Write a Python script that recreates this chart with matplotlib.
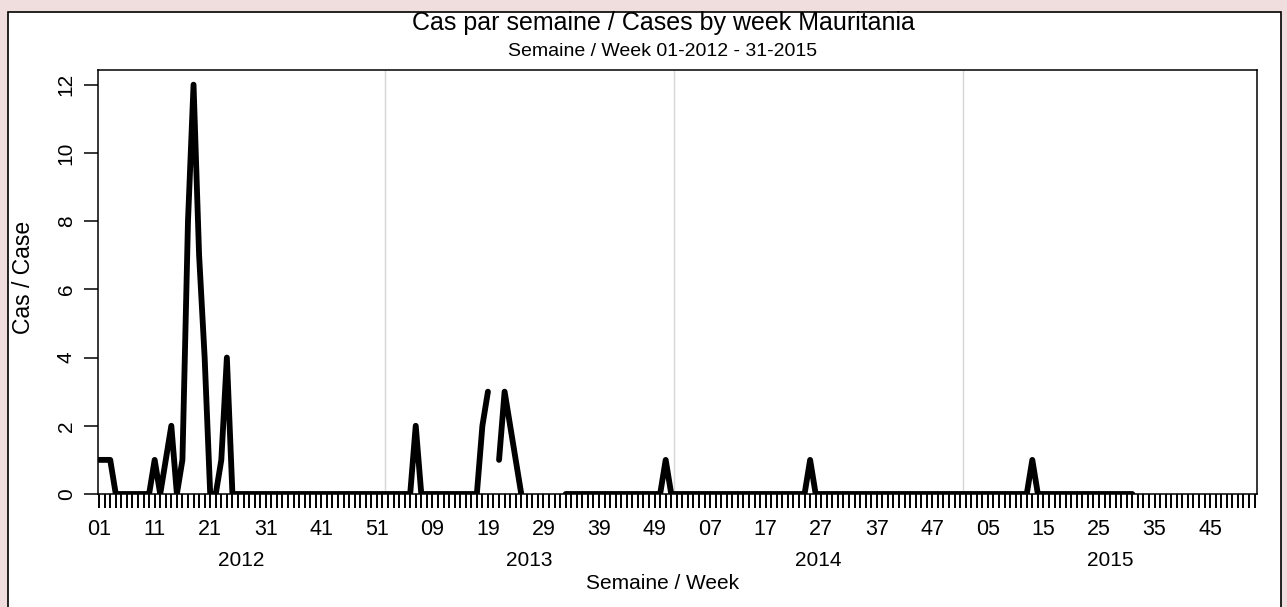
import numpy as np
import matplotlib
matplotlib.use("Agg")
import matplotlib.pyplot as plt
from matplotlib.patches import Rectangle

plt.rcParams['font.family'] = ['Liberation Sans', 'DejaVu Sans']

# weekly case counts, NaN = no report
nan = np.nan
cases_2012 = [1, 1, 1, 0, 0, 0, 0, 0, 0, 0, 1, 0, 1, 2, 0, 1, 8, 12, 7, 4,
              0, 0, 1, 4, 0, 0, 0, 0, 0, 0, 0, 0, 0, 0, 0, 0, 0, 0, 0, 0,
              0, 0, 0, 0, 0, 0, 0, 0, 0, 0, 0, 0]
cases_2013 = [0, 0, 0, 0, 0, 2, 0, 0, 0, 0, 0, 0, 0, 0, 0, 0, 0, 2, 3, nan,
              1, 3, 2, 1, 0, nan, nan, nan, nan, nan, nan, nan, 0, 0, 0, 0, 0, 0, 0, 0,
              0, 0, 0, 0, 0, 0, 0, 0, 0, 0, 1, 0]
cases_2014 = [0, 0, 0, 0, 0, 0, 0, 0, 0, 0, 0, 0, 0, 0, 0, 0, 0, 0, 0, 0,
              0, 0, 0, 0, 1, 0, 0, 0, 0, 0, 0, 0, 0, 0, 0, 0, 0, 0, 0, 0,
              0, 0, 0, 0, 0, 0, 0, 0, 0, 0, 0, 0]
cases_2015 = [0, 0, 0, 0, 0, 0, 0, 0, 0, 0, 0, 0, 1, 0, 0, 0, 0, 0, 0, 0,
              0, 0, 0, 0, 0, 0, 0, 0, 0, 0, 0]

years = ['2012', '2013', '2014', '2015']
weeks_in_year = [52, 52, 52, 53]

cases = np.array(cases_2012 + cases_2013 + cases_2014 + cases_2015, dtype=float)
x = np.arange(len(cases))

# week number for each slot on the axis
week_num = np.concatenate([np.arange(1, n + 1) for n in weeks_in_year])
n_weeks = len(week_num)
starts = np.cumsum([0] + weeks_in_year[:-1])

fig = plt.figure(figsize=(12.87, 6.07), dpi=100)
fig.patch.set_facecolor('#f0dede')
fig.patches.append(Rectangle((8 / 1287, -0.05), (1281 - 8) / 1287, 1 - 12 / 607 + 0.05,
                             transform=fig.transFigure, facecolor='white',
                             edgecolor='black', linewidth=1.2, zorder=-10))

ax = fig.add_axes([98 / 1287, 1 - 494 / 607, (1257 - 98) / 1287, (494 - 70) / 607])
ax.set_zorder(1)
ax.patch.set_alpha(0)

for s in starts[1:]:
    ax.axvline(s - 0.5, color='#d6d6d6', linewidth=1, zorder=1)

ax.plot(x, cases, color='black', linewidth=4.2, solid_capstyle='round',
        solid_joinstyle='round', zorder=3)

ax.set_xlim(-0.2, n_weeks - 0.55)
ax.set_ylim(0, 12.43)

for sp in ax.spines.values():
    sp.set_linewidth(1.1)
    sp.set_color('black')

ax.set_yticks(range(0, 13, 2))
ax.tick_params(axis='y', length=10, width=1.1, pad=6, labelsize=15, direction='out')
plt.setp(ax.get_yticklabels(), rotation=90, va='center')

ax.set_xticks(x_major := np.arange(0, n_weeks, 10))
ax.set_xticklabels([f"{week_num[i]:02d}" for i in x_major])
ax.set_xticks(np.arange(n_weeks), minor=True)
ax.tick_params(axis='x', which='both', length=10, width=1.4, pad=8,
               labelsize=15.5, direction='out')

for yr, s, n in zip(years, starts, weeks_in_year):
    ax.text(s + (n - 1) / 2, -0.156, yr, transform=ax.get_xaxis_transform(),
            ha='center', va='center', fontsize=15)

ax.text(0.4875, -0.212, 'Semaine / Week', transform=ax.transAxes,
        ha='center', va='center', fontsize=15)
ax.text(-0.064, 0.51, 'Cas / Case', transform=ax.transAxes, rotation=90,
        ha='center', va='center', fontsize=16.5)

fig.text(663 / 1287, 1 - 23 / 607, 'Cas par semaine / Cases by week Mauritania',
         ha='center', va='center', fontsize=18)
fig.text(663 / 1287, 1 - 52 / 607, 'Semaine / Week 01-2012 - 31-2015',
         ha='center', va='center', fontsize=14)

fig.savefig('out.png', dpi=100, facecolor=fig.get_facecolor())
